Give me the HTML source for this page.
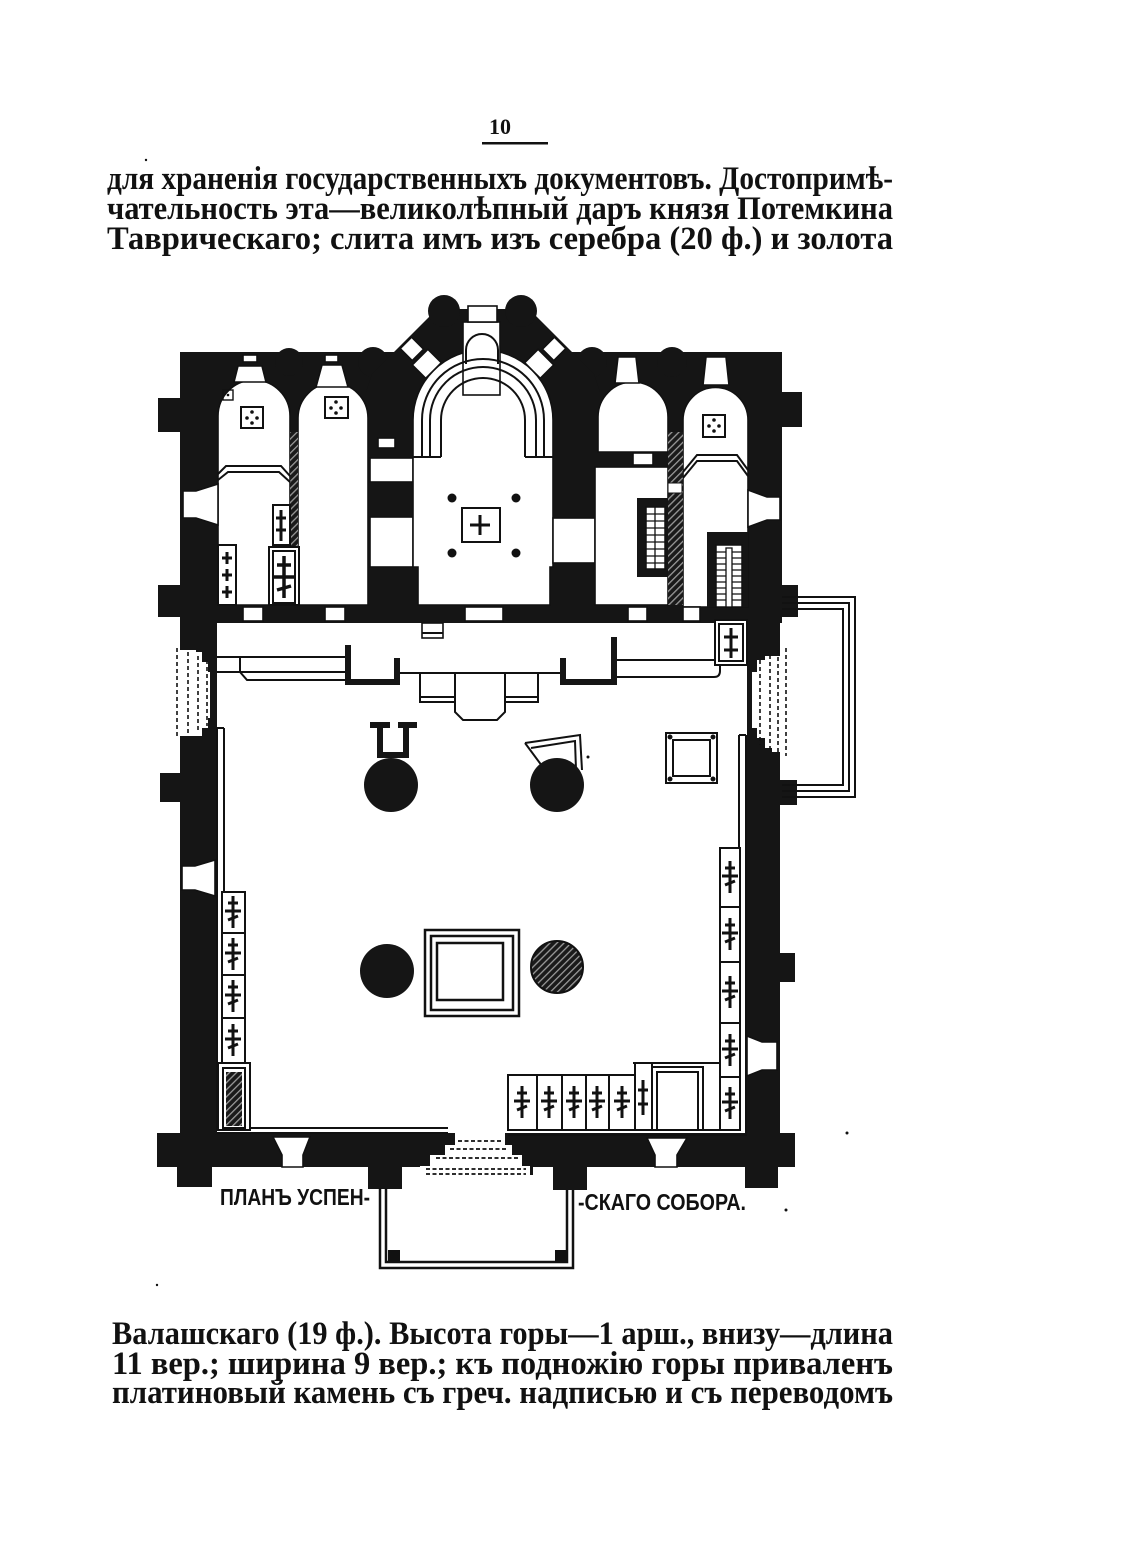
<!DOCTYPE html>
<html><head><meta charset="utf-8"><style>
html,body{margin:0;padding:0;background:#fff;}
svg{display:block;}
.t{font-family:"Liberation Serif","DejaVu Serif",serif;font-weight:bold;font-size:33px;fill:#111;}
.l{font-family:"Liberation Sans","DejaVu Sans",sans-serif;font-weight:bold;font-size:23px;fill:#111;}
</style></head><body>
<svg width="1140" height="1544" viewBox="0 0 1140 1544">
<defs>
<pattern id="hp" width="5" height="5" patternUnits="userSpaceOnUse" patternTransform="rotate(45)"><rect width="5" height="5" fill="#1a1a1a"/><rect width="1.3" height="5" fill="#9a9a9a"/></pattern>
</defs>
<rect width="1140" height="1544" fill="#fff"/>

<!-- header -->
<text x="500" y="134" text-anchor="middle" style="font-family:'Liberation Serif',serif;font-weight:bold;font-size:22px" fill="#111">10</text>
<rect x="482" y="142" width="66" height="2.5" fill="#111"/>
<text class="t" x="107" y="189" textLength="786" lengthAdjust="spacingAndGlyphs">для храненія государственныхъ документовъ. Достопримѣ-</text>
<text class="t" x="107" y="219" textLength="786" lengthAdjust="spacingAndGlyphs">чательность эта—великолѣпный  даръ князя  Потемкина</text>
<text class="t" x="107" y="249" textLength="786" lengthAdjust="spacingAndGlyphs">Таврическаго; слита  имъ  изъ  серебра  (20  ф.)  и  золота</text>

<!-- ===== WALLS ===== -->
<g fill="#151515">
<path d="M180,352 H782 V392 H802 V427 H782 V585 H798 V617 H782 V623 H180 V617 H158 V585 H180 V432 H158 V398 H180 Z"/>
<circle cx="289" cy="362" r="14"/><circle cx="373" cy="362" r="15"/>
<circle cx="592" cy="362" r="15"/><circle cx="672" cy="362" r="15"/>
<path d="M366,392 L372,374 L437,309 L529,309 L594,374 L600,392 Z"/>
<circle cx="444" cy="311" r="16"/><circle cx="521" cy="311" r="16"/>
<rect x="180" y="620" width="37" height="515"/>
<rect x="160" y="773" width="23" height="29"/>
<rect x="747" y="620" width="33" height="518"/>
<rect x="780" y="780" width="17" height="25"/>
<rect x="778" y="953" width="17" height="29"/>
<rect x="157" y="1133" width="638" height="34"/>
<rect x="177" y="1165" width="35" height="22"/>
<rect x="368" y="1165" width="34" height="24"/>
<rect x="553" y="1165" width="34" height="25"/>
<rect x="745" y="1165" width="33" height="23"/>
<rect x="420" y="1165" width="10" height="10"/>
<rect x="522" y="1165" width="11" height="10"/>
</g>

<!-- ===== WHITE SPACES (rooms, windows) ===== -->
<g fill="#fff" stroke="#111" stroke-width="1.6">
<path d="M218,605 V416 A36,36 0 0 1 290,416 V605 Z"/>
<path d="M298,605 V418 A35,35 0 0 1 368,418 V605 Z"/>
<polygon points="238,366 262,366 266,382 234,382"/>
<rect x="243" y="355" width="14" height="7"/>
<polygon points="322,365 342,365 348,387 316,387"/>
<rect x="325" y="355" width="13" height="7"/>
<polygon points="183,491 196,491 218,484 218,525 196,518 183,518"/>
<rect x="370" y="458" width="43" height="24"/>
<rect x="370" y="517" width="43" height="50"/>
<rect x="378" y="438" width="17" height="10"/>
<path d="M413,567 V420 A70,70 0 0 1 553,420 V567 H550 V605 H418 V567 Z"/>
<polygon points="441.3,362.7 427.9,349.3 412.3,364.9 425.7,378.3"/>
<polygon points="423.6,349.2 411.6,337.2 400.2,348.6 412.2,360.6"/>
<polygon points="524.7,362.7 538.1,349.3 553.7,364.9 540.3,378.3"/>
<polygon points="542.4,349.2 554.4,337.2 565.8,348.6 553.8,360.6"/>
<rect x="463" y="322" width="37" height="73"/>
<rect x="468" y="306" width="29" height="16"/>
<rect x="553" y="518" width="42" height="45"/>
<path d="M598,452 V417 A35,35 0 0 1 668,417 V452 Z"/>
<polygon points="618,357 636,357 639,383 615,383"/>
<rect x="633" y="453" width="20" height="12"/>
<rect x="595" y="467" width="73" height="138"/>
<path d="M683,607 V420 A32.5,32.5 0 0 1 748,420 V607 Z"/>
<polygon points="706,357 726,357 729,385 703,385"/>
<polygon points="748,490 767,497 780,497 780,520 767,520 748,527"/>
<rect x="243" y="607" width="20" height="14"/>
<rect x="325" y="607" width="20" height="14"/>
<rect x="465" y="607" width="38" height="14"/>
<rect x="628" y="607" width="19" height="14"/>
<rect x="683" y="607" width="17" height="14"/>
<rect x="422" y="623" width="21" height="15"/>
<polygon points="182,866 195,866 215,860 215,896 195,890 182,890"/>
<polygon points="747,1036 762,1042 777,1042 777,1070 762,1070 747,1076"/>
<polygon points="273,1137 310,1137 303,1155 303,1167 282,1167 282,1155"/>
<polygon points="647,1138 687,1138 677,1155 677,1167 655,1167 655,1155"/>
</g>
<!-- dotted openings -->
<rect x="176" y="650" width="34" height="86" fill="#fff"/>
<rect x="752" y="656" width="34" height="96" fill="#fff"/>
<g fill="#151515">
<polygon points="196,643 217,643 217,672 208,672 208,662 202,662 202,652 196,652"/>
<polygon points="196,744 217,744 217,718 208,718 208,728 202,728 202,736 196,736"/>
<polygon points="747,643 772,643 772,652 765,652 765,660 757,660 757,672 747,672"/>
<polygon points="747,757 772,757 772,748 765,748 765,738 757,738 757,728 747,728"/>
</g>
<g stroke="#111" stroke-width="1.6" stroke-dasharray="4,3" fill="none">
<path d="M177,648 V738 M188,652 V734 M198,656 V730 M207,660 V726"/>
<path d="M760,660 V745 M770,655 V750 M778,650 V754 M786,648 V756"/>
</g>
<!-- entrance -->
<polygon points="455,1133 505,1133 505,1145 512,1145 512,1155 522,1155 522,1166 530,1166 530,1176 420,1176 420,1166 430,1166 430,1155 445,1155 445,1145 455,1145" fill="#fff"/>
<g stroke="#111" stroke-width="1.8" stroke-dasharray="4,2.5" fill="none">
<path d="M458,1141 H502 M450,1149 H508 M436,1158 H518 M426,1169 H526 M426,1174 H526"/>
</g>

<rect x="290" y="432" width="8" height="173" fill="url(#hp)"/>
<rect x="668" y="432" width="15" height="173" fill="url(#hp)"/>
<rect x="668" y="483" width="14" height="10" fill="#fff" stroke="#111" stroke-width="1"/>

<!-- ===== LINEWORK ===== -->
<g stroke="#111" stroke-width="2" fill="none">
<path d="M422,457 V420 A61,61 0 0 1 544,420 V457"/>
<path d="M430,457 V420 A53,53 0 0 1 536,420 V457"/>
<path d="M441,457 V420 A42,42 0 0 1 525,420 V457"/>
<path d="M413,457 H441 M525,457 H553"/>
<path d="M466,364 V350 A16,16 0 0 1 498,350 V364"/>
<path d="M218,480 L228,472 H279 L290,482 M218,474 L226,466 H281 L290,476"/>
<path d="M683,472 L697,455 H737 L748,470 M683,478 L697,461 H737 L748,476"/>
<path d="M782,597 H855 V797 H782 M782,603 H849 V791 H782 M782,609 H843 V785 H782"/>
<path d="M217,728 V1130 M224,728 V1128 M217,728 H224"/>
<path d="M739,735 V1130 M746,735 V1136 M739,735 H746"/>
<path d="M217,1128 H448 M217,1133 H448"/>
<path d="M508,1130 H740 M508,1135 H746"/>
<path d="M217,657 H345 M217,672 H345 M240,657 V672 M240,672 L247,680 H345"/>
<path d="M400,673 H560"/>
<path d="M420,673 V702 H455 M420,697 H455 M455,673 V712 L463,720 H497 L505,712 V673 M505,702 H538 V673 M505,697 H538"/>
<path d="M617,660 H715 M617,677 H714 Q720,677 720,671 V665"/>
<path d="M422,633 H443"/>
<path d="M525,743 L580,735 L582,770 M531,748 L575,741 L576,770 M525,743 L545,770"/>
<rect x="666" y="733" width="51" height="50"/>
<rect x="673" y="740" width="37" height="36"/>
<rect x="425" y="930" width="94" height="86" stroke-width="2.5"/>
<rect x="431" y="936" width="82" height="74" stroke-width="2.5"/>
<rect x="437" y="943" width="66" height="57" stroke-width="2.5"/>
<path d="M380,1188 V1268 H573 V1190 M386,1188 V1262 H567 V1190" stroke-width="2.5"/>
<rect x="222" y="892" width="23" height="171" fill="#fff"/>
<path d="M222,933 H245 M222,975 H245 M222,1018 H245"/>
<rect x="218" y="1063" width="32" height="67" fill="#fff"/>
<rect x="223" y="1068" width="22" height="60"/>
<rect x="720" y="848" width="20" height="282" fill="#fff"/>
<path d="M720,907 H740 M720,962 H740 M720,1023 H740 M720,1077 H740"/>
<rect x="508" y="1075" width="127" height="55" fill="#fff"/>
<path d="M537,1075 V1130 M562,1075 V1130 M586,1075 V1130 M609,1075 V1130"/>
<rect x="635" y="1063" width="17" height="67" fill="#fff"/>
<rect x="652" y="1067" width="51" height="63" fill="#fff"/>
<rect x="657" y="1072" width="41" height="58"/>
<path d="M633,1063 H720 V1130"/>
<rect x="715" y="620" width="32" height="45" fill="#fff"/>
<rect x="719" y="624" width="24" height="37"/>
<rect x="218" y="545" width="18" height="60" fill="#fff"/>
<rect x="273" y="505" width="17" height="40" fill="#fff"/>
<rect x="269" y="547" width="30" height="58" fill="#fff"/>
<rect x="273" y="551" width="22" height="52"/>
<rect x="241" y="407" width="22" height="21"/>
<rect x="325" y="397" width="23" height="21"/>
<rect x="703" y="415" width="22" height="22"/>
<rect x="223" y="390" width="10" height="10" stroke-width="1.4"/>
<rect x="462" y="508" width="38" height="34"/>
</g>

<rect x="637" y="498" width="31" height="79" fill="#151515"/>
<rect x="646" y="507" width="19" height="62" fill="#fff" stroke="#111" stroke-width="1.5"/>
<path d="M646,514 H665 M646,521 H665 M646,528 H665 M646,535 H665 M646,542 H665 M646,549 H665 M646,556 H665 M646,563 H665 M655,507 V569" stroke="#111" stroke-width="1.3"/>
<rect x="707" y="532" width="41" height="75" fill="#151515"/>
<rect x="716" y="545" width="26" height="62" fill="#fff" stroke="#111" stroke-width="1.5"/>
<path d="M716,552 H742 M716,558 H742 M716,564 H742 M716,570 H742 M716,576 H742 M716,582 H742 M716,588 H742 M716,594 H742 M716,600 H742" stroke="#111" stroke-width="1.3"/>
<rect x="726" y="548" width="6" height="59" fill="#fff" stroke="#111" stroke-width="1.3"/>
<rect x="226" y="1072" width="16" height="54" fill="url(#hp)"/>

<g stroke="#151515" stroke-width="6" fill="none">
<path d="M348,645 V682 H397 V658"/>
<path d="M563,658 V682 H614 V637"/>
<path d="M370,725 H390 M380,725 V755 H406 V725 M398,725 H417"/>
</g>

<circle cx="391" cy="785" r="27" fill="#151515"/>
<circle cx="557" cy="785" r="27" fill="#151515"/>
<circle cx="387" cy="971" r="27" fill="#151515"/>
<circle cx="557" cy="967" r="26" fill="url(#hp)" stroke="#111" stroke-width="2"/>

<g fill="#111">
<circle cx="452" cy="498" r="4.5"/><circle cx="516" cy="498" r="4.5"/>
<circle cx="452" cy="553" r="4.5"/><circle cx="516" cy="553" r="4.5"/>
<circle cx="252" cy="412" r="1.8"/><circle cx="247" cy="418" r="1.8"/><circle cx="257" cy="418" r="1.8"/><circle cx="252" cy="423" r="1.8"/>
<circle cx="336" cy="402" r="1.8"/><circle cx="331" cy="408" r="1.8"/><circle cx="341" cy="408" r="1.8"/><circle cx="336" cy="413" r="1.8"/>
<circle cx="714" cy="420" r="1.8"/><circle cx="709" cy="426" r="1.8"/><circle cx="719" cy="426" r="1.8"/><circle cx="714" cy="431" r="1.8"/>
<circle cx="228" cy="395" r="1.3"/>
<circle cx="670" cy="737" r="2.5"/><circle cx="713" cy="737" r="2.5"/><circle cx="670" cy="779" r="2.5"/><circle cx="713" cy="779" r="2.5"/>
<rect x="388" y="1250" width="12" height="12"/><rect x="555" y="1250" width="12" height="12"/>
<circle cx="847" cy="1133" r="1.5"/><circle cx="786" cy="1210" r="1.5"/><circle cx="157" cy="1285" r="1.2"/><circle cx="146" cy="160" r="1.2"/><circle cx="588" cy="757" r="1.5"/>
</g>

<g stroke="#111" stroke-width="3" fill="none">
<path d="M470,525 H490 M480,515 V535"/>
<path d="M233,896V928M228,903H238M225,911H241M228,920L238,916"/>
<path d="M233,938V970M228,945H238M225,953H241M228,962L238,958"/>
<path d="M233,980V1012M228,987H238M225,995H241M228,1004L238,1000"/>
<path d="M233,1024V1056M228,1031H238M225,1039H241M228,1048L238,1044"/>
<path d="M730,861V893M725,868H735M722,876H738M725,885L735,881"/>
<path d="M730,918V950M725,925H735M722,933H738M725,942L735,938"/>
<path d="M730,976V1008M725,983H735M722,991H738M725,1000L735,996"/>
<path d="M730,1034V1066M725,1041H735M722,1049H738M725,1058L735,1054"/>
<path d="M730,1087V1119M725,1094H735M722,1102H738M725,1111L735,1107"/>
<path d="M522,1086V1118M517,1093H527M514,1101H530M517,1110L527,1106"/>
<path d="M549,1086V1118M544,1093H554M541,1101H557M544,1110L554,1106"/>
<path d="M574,1086V1118M569,1093H579M566,1101H582M569,1110L579,1106"/>
<path d="M597,1086V1118M592,1093H602M589,1101H605M592,1110L602,1106"/>
<path d="M622,1086V1118M617,1093H627M614,1101H630M617,1110L627,1106"/>
<path d="M643,1080V1115M638,1090H648M638,1104H648"/>
<path d="M227,552V564M222,558H232M227,569V581M222,575H232M227,586V598M222,592H232"/>
<path d="M281,510V541M276,518H286M276,530H286"/>
<path d="M284,556V598M277,565H291M274,577H294M277,590L291,586" stroke-width="3.5"/>
<path d="M731,628V658M724,637H738M724,650H738"/>
</g>

<text class="l" x="220" y="1205" textLength="150" lengthAdjust="spacingAndGlyphs">ПЛАНЪ УСПЕН-</text>
<text class="l" x="578" y="1210" textLength="168" lengthAdjust="spacingAndGlyphs">-СКАГО СОБОРА.</text>

<text class="t" x="112" y="1344" textLength="781" lengthAdjust="spacingAndGlyphs">Валашскаго (19 ф.). Высота горы—1 арш., внизу—длина</text>
<text class="t" x="112" y="1374" textLength="781" lengthAdjust="spacingAndGlyphs">11 вер.; ширина 9 вер.;  къ  подножію  горы  приваленъ</text>
<text class="t" x="112" y="1403" textLength="781" lengthAdjust="spacingAndGlyphs">платиновый  камень  съ  греч.  надписью  и  съ  переводомъ</text>
</svg>
</body></html>
